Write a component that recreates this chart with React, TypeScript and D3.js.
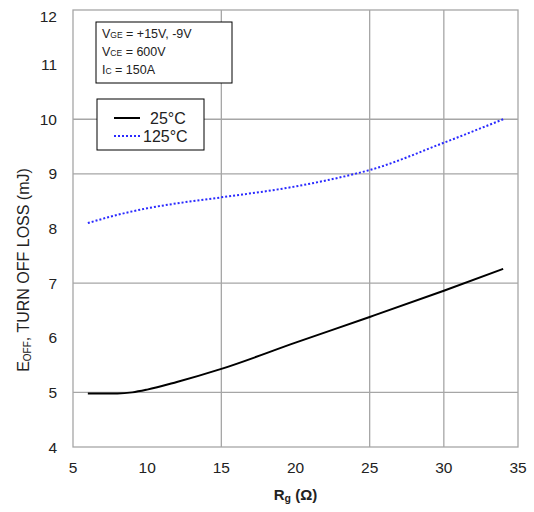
import React from "react";
import * as d3 from "d3";

const rg25 = [6, 7, 8, 9, 10, 12, 15, 20, 25, 30, 34];
const eoff25 = [4.98, 4.98, 4.98, 5.0, 5.05, 5.19, 5.43, 5.91, 6.38, 6.86, 7.26];
const rg125 = [6, 8, 10, 12, 15, 20, 24, 25, 30, 34];
const eoff125 = [8.1, 8.25, 8.37, 8.46, 8.57, 8.77, 9.0, 9.07, 9.57, 10.0];
const xTicks = [5, 10, 15, 20, 25, 30, 35];
const yTicks = [4, 5, 6, 7, 8, 9, 10, 11, 12];
const xGrid = [15, 25, 30];
const yGrid = [5, 7, 9, 10];

const W = 534, H = 512;
const L = 73, R = 518, T = 10, B = 447;
const FONT = "'Liberation Sans', Arial, sans-serif";

export default function App() {
  const x = d3.scaleLinear().domain([5, 35]).range([L, R]);
  const y = d3.scaleLinear().domain([4, 12]).range([B, T]);
  const line = d3.line<[number, number]>().x(d => x(d[0])).y(d => y(d[1])).curve(d3.curveMonotoneX);
  const d25 = line(rg25.map((v, i) => [v, eoff25[i]]) as [number, number][]) || "";
  const d125 = line(rg125.map((v, i) => [v, eoff125[i]]) as [number, number][]) || "";
  const gridColor = "#a6a6a6";
  return (
    <svg width={W} height={H} style={{ position: "absolute", left: 0, top: 0, background: "#fff" }} fontFamily={FONT}>
      <rect x={0} y={0} width={W} height={H} fill="#fff" />
      {xGrid.map(v => (
        <line key={"gx" + v} x1={x(v)} x2={x(v)} y1={T} y2={B} stroke={gridColor} strokeWidth={1.3} />
      ))}
      {yGrid.map(v => (
        <line key={"gy" + v} x1={L} x2={R} y1={y(v)} y2={y(v)} stroke={gridColor} strokeWidth={1.3} />
      ))}
      <rect x={L} y={T} width={R - L} height={B - T} fill="none" stroke={gridColor} strokeWidth={1.3} />
      {yTicks.map(v => (
        <text key={"yt" + v} x={57} y={y(v) + (v === 12 ? 12 : 5.5)} textAnchor="end" fontSize={15.5} fill="#222">{v}</text>
      ))}
      {xTicks.map(v => (
        <text key={"xt" + v} x={x(v)} y={473} textAnchor="middle" fontSize={15.5} fill="#222">{v}</text>
      ))}
      <text x={x(20)} y={500} textAnchor="middle" fontSize={15} fontWeight="bold" fill="#222">
        R<tspan fontSize={10.5} dy={2}>g</tspan><tspan dy={-2}> (Ω)</tspan>
      </text>
      <text transform="translate(29,270) rotate(-90)" textAnchor="middle" fontSize={16} fill="#222">
        E<tspan fontSize={10} dy={2}>OFF</tspan><tspan dy={-2}>, TURN OFF LOSS (mJ)</tspan>
      </text>
      <path d={d125} fill="none" stroke="#2a2aff" strokeWidth={2} strokeDasharray="2,2" />
      <path d={d25} fill="none" stroke="#000" strokeWidth={2} />
      <rect x={96} y={22} width={136} height={61} fill="#fff" stroke="#000" strokeWidth={1} />
      <text x={102} y={38} fontSize={12.5} fill="#222">V<tspan fontSize={8.5}>GE</tspan> = +15V, -9V</text>
      <text x={102} y={56} fontSize={12.5} fill="#222">V<tspan fontSize={8.5}>CE</tspan> = 600V</text>
      <text x={102} y={74} fontSize={12.5} fill="#222">I<tspan fontSize={8.5}>C</tspan> = 150A</text>
      <rect x={97} y={99} width={107} height={51} fill="#fff" stroke="#000" strokeWidth={1} />
      <line x1={114} x2={140} y1={118} y2={118} stroke="#000" strokeWidth={2} />
      <line x1={114} x2={142} y1={136} y2={136} stroke="#2a2aff" strokeWidth={2} strokeDasharray="2,2" />
      <text x={150} y={124} fontSize={16} fill="#222">25°C</text>
      <text x={143} y={142} fontSize={16} fill="#222">125°C</text>
    </svg>
  );
}
